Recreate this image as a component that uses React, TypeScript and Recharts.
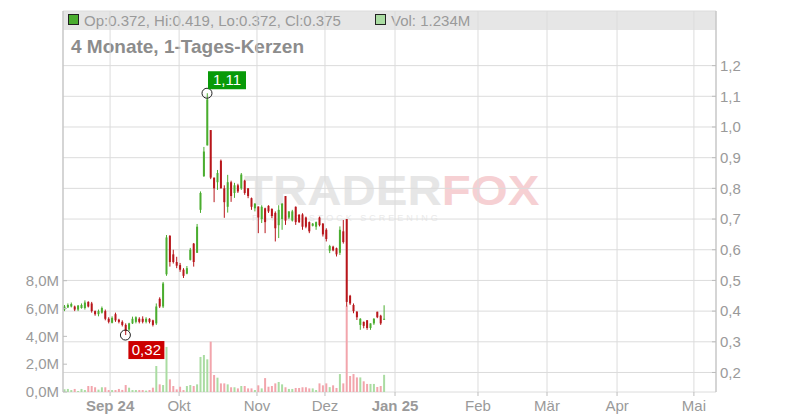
import { ComposedChart, Bar, Cell, XAxis, YAxis, CartesianGrid, ReferenceDot } from 'recharts';

// daily candles, trading-day index 0 = first bar (mid Aug 2024)
const opens = [
  0.405, 0.412, 0.415, 0.415, 0.405, 0.41, 0.41, 0.43, 0.425, 0.4,
  0.39, 0.395, 0.4, 0.375, 0.362, 0.39, 0.372, 0.365, 0.355, 0.34,
  0.36, 0.365, 0.375, 0.375, 0.365, 0.375, 0.37, 0.36, 0.44, 0.415,
  0.52, 0.645, 0.585, 0.56, 0.55, 0.535, 0.522, 0.567, 0.62, 0.59,
  0.73, 0.84, 0.94, 0.99, 0.835, 0.82, 0.89, 0.8, 0.74, 0.82,
  0.785, 0.81, 0.8, 0.825, 0.8, 0.768, 0.735, 0.741, 0.7, 0.735,
  0.743, 0.733, 0.72, 0.68, 0.7, 0.775, 0.705, 0.695, 0.74, 0.714,
  0.715, 0.705, 0.69, 0.678, 0.675, 0.705, 0.685, 0.665, 0.597, 0.61,
  0.605, 0.59, 0.66, 0.7, 0.45, 0.42, 0.398, 0.355, 0.365, 0.37,
  0.345, 0.36, 0.398, 0.385, 0.372,
];
const highs = [
  0.42, 0.425, 0.428, 0.418, 0.42, 0.425, 0.435, 0.432, 0.43, 0.402,
  0.405, 0.415, 0.405, 0.38, 0.383, 0.395, 0.375, 0.37, 0.36, 0.362,
  0.382, 0.383, 0.38, 0.383, 0.38, 0.377, 0.372, 0.425, 0.445, 0.495,
  0.648, 0.648, 0.6, 0.577, 0.557, 0.54, 0.547, 0.606, 0.622, 0.684,
  0.79, 0.935, 1.11, 0.99, 0.835, 0.86, 0.894, 0.81, 0.844, 0.825,
  0.818, 0.815, 0.85, 0.828, 0.801, 0.77, 0.752, 0.741, 0.745, 0.737,
  0.745, 0.735, 0.725, 0.745, 0.752, 0.775, 0.725, 0.73, 0.741, 0.716,
  0.719, 0.708, 0.692, 0.687, 0.692, 0.708, 0.687, 0.67, 0.616, 0.613,
  0.607, 0.676, 0.697, 0.7, 0.453, 0.425, 0.4, 0.377, 0.366, 0.371,
  0.36, 0.377, 0.398, 0.388, 0.419,
];
const lows = [
  0.4, 0.41, 0.412, 0.4, 0.4, 0.408, 0.405, 0.412, 0.395, 0.385,
  0.383, 0.392, 0.37, 0.36, 0.36, 0.365, 0.36, 0.35, 0.322, 0.335,
  0.358, 0.36, 0.36, 0.36, 0.36, 0.36, 0.35, 0.355, 0.41, 0.41,
  0.515, 0.545, 0.555, 0.54, 0.528, 0.508, 0.52, 0.565, 0.545, 0.59,
  0.72, 0.837, 0.94, 0.83, 0.755, 0.795, 0.8, 0.704, 0.721, 0.756,
  0.769, 0.785, 0.795, 0.779, 0.768, 0.73, 0.725, 0.654, 0.687, 0.654,
  0.72, 0.703, 0.627, 0.638, 0.665, 0.681, 0.7, 0.692, 0.681, 0.687,
  0.665, 0.67, 0.654, 0.676, 0.665, 0.676, 0.643, 0.627, 0.589, 0.595,
  0.578, 0.583, 0.62, 0.415, 0.42, 0.393, 0.371, 0.339, 0.344, 0.339,
  0.339, 0.355, 0.377, 0.355, 0.372,
];
const closes = [
  0.415, 0.42, 0.423, 0.405, 0.418, 0.42, 0.428, 0.415, 0.4, 0.39,
  0.4, 0.41, 0.375, 0.365, 0.378, 0.37, 0.365, 0.355, 0.335, 0.36,
  0.375, 0.38, 0.365, 0.365, 0.375, 0.365, 0.355, 0.415, 0.415, 0.49,
  0.64, 0.56, 0.56, 0.548, 0.535, 0.515, 0.54, 0.6, 0.56, 0.675,
  0.785, 0.92, 1.09, 0.835, 0.8, 0.85, 0.8, 0.755, 0.82, 0.775,
  0.81, 0.79, 0.845, 0.785, 0.775, 0.74, 0.75, 0.705, 0.74, 0.69,
  0.725, 0.71, 0.67, 0.73, 0.75, 0.695, 0.725, 0.725, 0.69, 0.69,
  0.675, 0.675, 0.66, 0.685, 0.69, 0.68, 0.65, 0.635, 0.612, 0.598,
  0.585, 0.665, 0.625, 0.43, 0.425, 0.4, 0.38, 0.375, 0.352, 0.345,
  0.36, 0.375, 0.38, 0.36, 0.375,
];
// volume in millions
const volumes = [
  0.2, 0.22, 0.14, 0.22, 0.07, 0.22, 0.14, 0.43, 0.43, 0.34,
  0.17, 0.34, 0.34, 0.14, 0.14, 0.14, 0.22, 0.15, 0.5, 0.31,
  0.14, 0.14, 0.14, 0.14, 0.1, 0.14, 0.31, 1.87, 0.55, 0.5,
  3.24, 0.91, 0.43, 0.19, 0.38, 0.14, 0.43, 0.5, 0.43, 0.55,
  2.52, 2.66, 2.35, 3.62, 1.22, 1.03, 0.62, 0.62, 0.55, 0.34,
  0.34, 0.26, 0.43, 0.43, 0.26, 0.26, 0.14, 0.48, 0.26, 1.0,
  0.38, 0.43, 0.62, 0.72, 0.55, 0.34, 0.22, 0.22, 0.29, 0.29,
  0.34, 0.34, 0.26, 0.26, 0.14, 0.62, 0.48, 0.62, 0.35, 0.48,
  0.29, 1.29, 0.62, 6.2, 1.15, 1.29, 1.05, 1.05, 0.77, 0.58,
  0.58, 0.58, 0.36, 0.43, 1.234,
];

// month starts on the trading-day axis
const monthTicks = [13.5, 33.8, 56.7, 76.7, 97.3, 121.7, 142, 162.6, 185.2];
const monthLabels = ['Sep 24', 'Okt', 'Nov', 'Dez', 'Jan 25', 'Feb', 'Mär', 'Apr', 'Mai'];
const priceTicks = [0.2, 0.3, 0.4, 0.5, 0.6, 0.7, 0.8, 0.9, 1.0, 1.1, 1.2];
const volumeTicks = [0, 2, 4, 6, 8];

const UP = '#4aad2f';
const DOWN = '#b8161b';
const VOL_UP = '#aadca2';
const VOL_DOWN = '#f2a5ac';
const GRID = '#dcdcdc';
const AXIS = '#bdbdbd';
const TEXT = '#9a9a9a';
const FONT = '"Liberation Sans", Arial, sans-serif';
const TICK_SIZE = 4;
const TICK_MARGIN = 4;
const CHART_W = 800;
const CHART_H = 420;
const X_AXIS_H = 28;
const PLOT_BOTTOM = CHART_H - X_AXIS_H;

const data = opens.map((o, i) => ({ i, o, h: highs[i], l: lows[i], c: closes[i], v: volumes[i] }));
const hiIdx = highs.indexOf(Math.max(...highs));
const loIdx = lows.indexOf(Math.min(...lows));
const last = data.length - 1;
const comma = (v: number, d: number) => v.toFixed(d).replace('.', ',');

const Candle = (props: any) => {
  const { x, y, width, height, payload } = props;
  const { o, h, l, c } = payload;
  const color = c >= o ? UP : DOWN;
  const toPx = (val: number) => y + ((h - val) / (h - l)) * height;
  const top = toPx(Math.max(o, c));
  const bot = toPx(Math.min(o, c));
  const mid = x + width / 2;
  return (
    <g>
      <line x1={mid} x2={mid} y1={y} y2={y + height} stroke={color} strokeWidth={1} />
      <rect x={x} y={top} width={width} height={Math.max(bot - top, 1)} fill={color} />
    </g>
  );
};

const HighMarker = (props: any) => {
  const { cx, cy } = props;
  return (
    <g>
      <circle cx={cx} cy={cy} r={5} fill="none" stroke="#222" strokeWidth={1} />
      <rect x={cx + 1} y={cy - 22} width={38} height={18} fill="#089a08" />
      <text x={cx + 20} y={cy - 8} textAnchor="middle" fill="#fff" fontSize={15} fontFamily={FONT}>
        {comma(highs[hiIdx], 2)}
      </text>
    </g>
  );
};

const LowMarker = (props: any) => {
  const { cx, cy } = props;
  return (
    <g>
      <circle cx={cx} cy={cy} r={5} fill="none" stroke="#222" strokeWidth={1} />
      <rect x={cx + 3} y={cy + 6} width={36} height={18} fill="#cc0000" />
      <text x={cx + 21} y={cy + 20} textAnchor="middle" fill="#fff" fontSize={15} fontFamily={FONT}>
        {comma(lows[loIdx], 2)}
      </text>
    </g>
  );
};

const MonthTick = (props: any) => {
  const { x, index } = props;
  const label = monthLabels[index] ?? '';
  return (
    <g>
      <line x1={x} x2={x} y1={PLOT_BOTTOM} y2={PLOT_BOTTOM + 4} stroke={AXIS} />
      <text x={x} y={PLOT_BOTTOM + 19} textAnchor="middle" fill={TEXT} fontSize={15} fontFamily={FONT}
        fontWeight={/\d/.test(label) ? 'bold' : 'normal'}>
        {label}
      </text>
    </g>
  );
};

const PriceTick = (props: any) => {
  const { x, y, payload } = props;
  const base = x - TICK_SIZE - TICK_MARGIN;
  return (
    <g>
      <line x1={base - 4} x2={base} y1={y} y2={y} stroke={AXIS} />
      <text x={base + 4} y={y} dy="0.35em" textAnchor="start" fill={TEXT} fontSize={15} fontFamily={FONT}>
        {comma(payload.value, 1)}
      </text>
    </g>
  );
};

const VolumeTick = (props: any) => {
  const { x, y, payload } = props;
  const base = x + TICK_SIZE + TICK_MARGIN;
  return (
    <g>
      <line x1={base} x2={base + 4} y1={y} y2={y} stroke={AXIS} />
      <text x={base - 4} y={y} dy="0.35em" textAnchor="end" fill={TEXT} fontSize={15} fontFamily={FONT}>
        {comma(payload.value, 1)}M
      </text>
    </g>
  );
};

export default function App() {
  const lastBar = data[last];
  return (
    <div style={{ position: 'relative', width: CHART_W, height: CHART_H, fontFamily: FONT, background: '#fff' }}>
      <style>{'body{margin:0}'}</style>
      {/* header band and watermark sit behind the svg */}
      <div style={{ position: 'absolute', left: 63, top: 11, width: 653, height: 19, background: '#e6e6e6' }} />
      <div style={{ position: 'absolute', left: 68, top: 14, width: 9, height: 9, background: UP, border: '1px solid #222' }} />
      <div style={{ position: 'absolute', left: 84, top: 11, fontSize: 15, lineHeight: '19px', color: TEXT }}>
        {`Op:${lastBar.o.toFixed(3)}, Hi:${lastBar.h.toFixed(3)}, Lo:${lastBar.l.toFixed(3)}, Cl:${lastBar.c.toFixed(3)}`}
      </div>
      <div style={{ position: 'absolute', left: 375, top: 14, width: 9, height: 9, background: VOL_UP, border: '1px solid #222' }} />
      <div style={{ position: 'absolute', left: 391, top: 11, fontSize: 15, lineHeight: '19px', color: TEXT }}>
        {`Vol: ${lastBar.v.toFixed(3)}M`}
      </div>
      <div style={{ position: 'absolute', left: 71, top: 36, fontSize: 19, fontWeight: 'bold', color: '#8c8c8c' }}>
        4 Monate, 1-Tages-Kerzen
      </div>
      <div style={{
        position: 'absolute', left: 244, top: 167, fontSize: 42, lineHeight: '48px', fontWeight: 900,
        whiteSpace: 'nowrap', transform: 'scaleX(1.13)', transformOrigin: 'left top',
      }}>
        <span style={{ color: '#e6e6e6' }}>TRADER</span>
        <span style={{ color: '#f6d0d3' }}>FOX</span>
      </div>
      <div style={{ position: 'absolute', left: 252, top: 213, fontSize: 9, lineHeight: '11px', letterSpacing: 3, color: '#eaeaea', whiteSpace: 'nowrap' }}>
        RATING STOCK SCREENING
      </div>

      <div style={{ position: 'absolute', left: 0, top: 0 }}>
        <ComposedChart width={CHART_W} height={CHART_H} data={data} margin={{ top: 11, right: 0, bottom: 0, left: 0 }}>
          <CartesianGrid xAxisId="x" yAxisId="p" stroke={GRID} />
          <XAxis
            xAxisId="x"
            type="number"
            dataKey="i"
            domain={[-0.35, 191.7]}
            allowDataOverflow
            ticks={monthTicks}
            interval={0}
            height={X_AXIS_H}
            stroke={AXIS}
            tickLine={false}
            tickSize={TICK_SIZE}
            tickMargin={TICK_MARGIN}
            tick={<MonthTick />}
          />
          <XAxis xAxisId="c" type="number" dataKey="i" domain={[-0.35, 191.7]} allowDataOverflow hide />
          <YAxis
            yAxisId="v"
            orientation="left"
            width={63}
            domain={[0, 27.39]}
            allowDataOverflow
            ticks={volumeTicks}
            interval={0}
            stroke={AXIS}
            tickLine={false}
            tickSize={TICK_SIZE}
            tickMargin={TICK_MARGIN}
            tick={<VolumeTick />}
          />
          <YAxis
            yAxisId="p"
            orientation="right"
            width={84}
            domain={[0.1364, 1.378]}
            allowDataOverflow
            ticks={priceTicks}
            interval={0}
            stroke={AXIS}
            tickLine={false}
            tickSize={TICK_SIZE}
            tickMargin={TICK_MARGIN}
            tick={<PriceTick />}
          />
          <Bar xAxisId="x" yAxisId="v" dataKey="v" barSize={2} isAnimationActive={false}>
            {data.map((d, i) => (
              <Cell key={`v-${i}`} fill={d.c >= d.o ? VOL_UP : VOL_DOWN} />
            ))}
          </Bar>
          <Bar
            xAxisId="c"
            yAxisId="p"
            dataKey={(d: any) => [d.l, d.h]}
            barSize={2}
            shape={<Candle />}
            isAnimationActive={false}
          />
          <ReferenceDot xAxisId="c" yAxisId="p" x={hiIdx} y={highs[hiIdx]} r={5} shape={<HighMarker />} />
          <ReferenceDot xAxisId="c" yAxisId="p" x={loIdx} y={lows[loIdx]} r={5} shape={<LowMarker />} />
        </ComposedChart>
      </div>
    </div>
  );
}
